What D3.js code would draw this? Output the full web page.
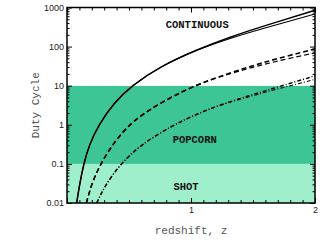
<!DOCTYPE html>
<html>
<head>
<meta charset="utf-8">
<script src="https://cdn.jsdelivr.net/npm/d3@7"></script>
<style>
  body { margin: 0; background: #fff; }
  svg { display: block; }
  .tick text { font-family: "Liberation Sans", Arial, sans-serif; font-size: 9px; fill: #222; }
  .band-label { font-family: "Liberation Mono", monospace; font-weight: bold; font-size: 10.5px; fill: #111; }
  .axis-title { font-family: "Liberation Mono", monospace; font-size: 11px; fill: #555; }
</style>
</head>
<body>
<div id="chart"></div>
<script>
// regions of duty cycle
const bandNames = ["SHOT", "POPCORN", "CONTINUOUS"]
const bandEdges = [0.01, 0.1, 10, 1000]
const bandColors = ["#a0efcc", "#3ec596", "#ffffff"]

// solid pair
const zSolid = [0.078, 0.1, 0.134, 0.18, 0.255, 0.38, 0.52, 0.75, 1.05, 1.31, 1.61, 2.0]
const solidUpper = [0.01, 0.028, 0.1, 0.31, 1, 3.7, 10, 31, 84, 175, 355, 850]
const solidLower = [0.01, 0.028, 0.1, 0.31, 1, 3.7, 10, 31, 84, 162, 310, 680]

// dashed pair
const zDashed = [0.156, 0.2, 0.27, 0.38, 0.5, 0.65, 0.83, 1.0, 1.2, 1.5, 1.75, 2.0]
const dashedUpper = [0.01, 0.032, 0.1, 0.36, 1, 2.3, 4.9, 9.1, 16, 33, 55, 87]
const dashedLower = [0.01, 0.032, 0.1, 0.36, 1, 2.3, 4.9, 9.1, 16, 30, 47, 69]

// dash-dot pair
const zDashDot = [0.24, 0.3, 0.43, 0.6, 0.86, 1.05, 1.23, 1.5, 1.7, 2.0]
const dashDotUpper = [0.01, 0.026, 0.1, 0.32, 1, 1.9, 3.2, 6.0, 9.3, 17.8]
const dashDotLower = [0.01, 0.026, 0.1, 0.32, 1, 1.9, 3.2, 5.6, 8.3, 14.5]

const yMajor = [0.01, 0.1, 1, 10, 100, 1000]
const yMajorLabels = ["0.01", "0.1", "1", "10", "100", "1000"]
const xMajor = [1, 2]
const xMajorLabels = ["1", "2"]

const margin = {top: 7.5, right: 6, bottom: 39, left: 67}
const width = 321 - margin.left - margin.right
const height = 242 - margin.top - margin.bottom

const svg = d3.select("#chart").append("svg")
  .attr("width", 321)
  .attr("height", 242)
const g = svg.append("g")
  .attr("transform", `translate(${margin.left},${margin.top})`)

const x = d3.scaleLinear().domain([0, 2]).range([0, width])
const y = d3.scaleLog().domain([0.01, 1000]).range([height, 0])

g.append("clipPath").attr("id", "clip")
  .append("rect").attr("width", width).attr("height", height)

// bands
g.selectAll("rect.band")
  .data(bandNames)
  .join("rect")
  .attr("class", "band")
  .attr("x", 0)
  .attr("width", width)
  .attr("y", (d, i) => y(bandEdges[i + 1]))
  .attr("height", (d, i) => y(bandEdges[i]) - y(bandEdges[i + 1]))
  .attr("fill", (d, i) => bandColors[i])

const line = d3.line()
  .x(d => x(d[0]))
  .y(d => y(d[1]))
  .curve(d3.curveBasis)

const curves = [
  {z: zSolid, v: solidUpper, dash: null, w: 1.5},
  {z: zSolid, v: solidLower, dash: null, w: 1.1},
  {z: zDashed, v: dashedUpper, dash: "5,3", w: 1.6},
  {z: zDashed, v: dashedLower, dash: "5,3", w: 1.2},
  {z: zDashDot, v: dashDotUpper, dash: "4,2,1,2", w: 1.4},
  {z: zDashDot, v: dashDotLower, dash: "4,2,1,2", w: 1.1}
]

g.append("g").attr("clip-path", "url(#clip)")
  .selectAll("path")
  .data(curves)
  .join("path")
  .attr("d", c => line(c.z.map((z, i) => [z, c.v[i]])))
  .attr("fill", "none")
  .attr("stroke", "#000")
  .attr("stroke-width", c => c.w)
  .attr("stroke-dasharray", c => c.dash)

// band labels
const labelPos = [[0.96, 0.027], [1.03, 0.42], [1.05, 370]]
g.selectAll("text.band-label")
  .data(bandNames)
  .join("text")
  .attr("class", "band-label")
  .attr("x", (d, i) => x(labelPos[i][0]))
  .attr("y", (d, i) => y(labelPos[i][1]))
  .attr("text-anchor", "middle")
  .attr("dy", "0.35em")
  .text(d => d)

// axes with inward ticks
const yTicks = y.ticks()
const isMajor = v => yMajor.some(m => Math.abs(m - v) / m < 1e-6)
const fmtY = v => { const i = yMajor.findIndex(m => Math.abs(m - v) / m < 1e-6); return i >= 0 ? yMajorLabels[i] : "" }

const leftAxis = g.append("g")
  .call(d3.axisLeft(y).tickValues(yTicks).tickFormat(fmtY).tickSizeOuter(0).tickPadding(3))
leftAxis.selectAll(".tick line").attr("x2", d => isMajor(d) ? 5 : 2.5)
leftAxis.selectAll(".tick text").attr("x", -3)

const rightAxis = g.append("g").attr("transform", `translate(${width},0)`)
  .call(d3.axisRight(y).tickValues(yTicks).tickFormat("").tickSizeOuter(0))
rightAxis.selectAll(".tick line").attr("x2", d => isMajor(d) ? -5 : -2.5)

const xTicks = d3.range(0, 21).map(i => i / 10)
const fmtX = v => { const i = xMajor.findIndex(m => Math.abs(m - v) < 1e-6); return i >= 0 ? xMajorLabels[i] : "" }
const xMaj = v => Math.abs(v - Math.round(v)) < 1e-6

const bottomAxis = g.append("g").attr("transform", `translate(0,${height})`)
  .call(d3.axisBottom(x).tickValues(xTicks).tickFormat(fmtX).tickSizeOuter(0))
bottomAxis.selectAll(".tick line").attr("y2", d => xMaj(d) ? -5 : -3)
bottomAxis.selectAll(".tick text").attr("y", 4)

const topAxis = g.append("g")
  .call(d3.axisTop(x).tickValues(xTicks).tickFormat("").tickSizeOuter(0))
topAxis.selectAll(".tick line").attr("y2", d => xMaj(d) ? 5 : 3)

g.selectAll(".domain").remove()
g.selectAll(".tick line").attr("stroke", "#000").attr("stroke-width", 1)

// frame
g.append("rect")
  .attr("width", width)
  .attr("height", height)
  .attr("fill", "none")
  .attr("stroke", "#000")
  .attr("stroke-width", 1.5)

// titles
svg.append("text")
  .attr("class", "axis-title")
  .attr("transform", `translate(39,${margin.top + height / 2}) rotate(-90)`)
  .attr("text-anchor", "middle")
  .text("Duty Cycle")

svg.append("text")
  .attr("class", "axis-title")
  .attr("x", margin.left + width / 2)
  .attr("y", 234)
  .attr("text-anchor", "middle")
  .text("redshift, z")
</script>
</body>
</html>
